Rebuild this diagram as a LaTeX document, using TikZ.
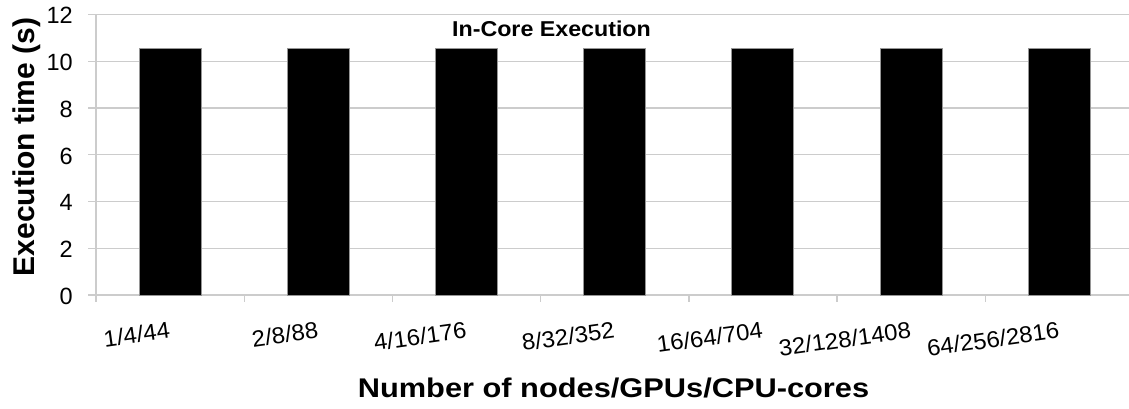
\documentclass[tikz,border=0pt]{standalone}
\usepackage{fontspec}
\setmainfont{Liberation Sans}
\definecolor{gridgray}{RGB}{204,204,204}
\definecolor{baredge}{RGB}{150,150,150}
\begin{document}
\begin{tikzpicture}[x=1pt,y=-1pt,
  gridline/.style={draw=gridgray, line width=1.4pt},
  barbox/.style={fill=black, draw=baredge, line width=0.8pt},
  ytick/.style={anchor=east, inner sep=0pt, font=\fontsize{23.5}{23.5}\selectfont},
  xtick/.style={anchor=base east, inner sep=0pt, rotate=8, font=\fontsize{23}{23}\selectfont},
  axistitle/.style={inner sep=0pt, font=\bfseries\fontsize{27}{27}\selectfont},
]
\useasboundingbox (0,0) rectangle (1129,408);

% horizontal grid lines and value labels
\foreach \v in {0,2,...,12} {
  \draw[gridline] (88,{295-23.375*\v}) -- (1129,{295-23.375*\v});
  \node[ytick] (ylab\v) at (73,{296.2-23.375*\v}) {\v};
}
% vertical axis and category ticks
\draw[gridline] (96,14.5) -- (96,302);
\foreach \k in {1,...,6} {
  \draw[gridline] ({96+148.2*\k},295) -- ++(0,7);
}

% bars
\foreach \k in {0,...,6} {
  \draw[barbox] ({139+148.2*\k},295) rectangle ++(62,-246.7);
}

% category labels
\node[xtick] (c1) at (171,338) {\scalebox{1.04}[1]{1/4/44}};
\node[xtick] (c2) at ({171+148.2},338) {\scalebox{1.04}[1]{2/8/88}};
\node[xtick] (c3) at ({171+2*148.2},338) {\scalebox{1.04}[1]{4/16/176}};
\node[xtick] (c4) at ({171+3*148.2},338) {\scalebox{1.04}[1]{8/32/352}};
\node[xtick] (c5) at ({171+4*148.2},338) {\scalebox{1.04}[1]{16/64/704}};
\node[xtick] (c6) at ({171+5*148.2},338) {\scalebox{1.04}[1]{32/128/1408}};
\node[xtick] (c7) at ({171+6*148.2},338) {\scalebox{1.04}[1]{64/256/2816}};

% titles
\node[inner sep=0pt, anchor=base, font=\bfseries\fontsize{21.5}{21.5}\selectfont] (title) at (551.5,36) {\scalebox{1.08}[1]{In-Core Execution}};
\node[axistitle, anchor=base, rotate=90, font=\bfseries\fontsize{30}{30}\selectfont] (ytitle) at (34,147) {Execution time (s)};
\node[axistitle, anchor=base] (xtitle) at (613.5,397) {\scalebox{1.14}[1]{Number of nodes/GPUs/CPU-cores}};
\end{tikzpicture}
\end{document}
